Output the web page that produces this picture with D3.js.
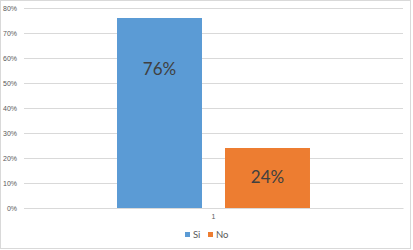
<!DOCTYPE html>
<html>
<head>
<meta charset="utf-8">
<script src="https://cdn.jsdelivr.net/npm/d3@7"></script>
<style>
  body { margin: 0; background: #fff; }
  svg { display: block; font-family: Lato, "Open Sans", sans-serif; }
</style>
</head>
<body>
<div class="container"></div>
<script>
// Data
const categories = ["1"];
const series = ["Si", "No"];
const values = [0.76, 0.24];
const labels = ["76%", "24%"];
const yTicks = [0, 0.1, 0.2, 0.3, 0.4, 0.5, 0.6, 0.7, 0.8];

const colors = ["#5B9BD5", "#ED7D31"];
// where the data label sits, in axis units (Excel put the big one high up)
const labelAt = [0.556, 0.124];

const width = 413;
const height = 250;
const margin = {top: 8, right: 10, bottom: 42, left: 24};

const svg = d3.select(".container").append("svg")
    .attr("width", width)
    .attr("height", height);

// chart border
svg.append("rect")
    .attr("x", 0.5).attr("y", 0.5)
    .attr("width", 410).attr("height", 248)
    .attr("fill", "#fff")
    .attr("stroke", "#d9d9d9");

const y = d3.scaleLinear()
    .domain([0, 0.8])
    .range([height - margin.bottom, margin.top]);

const x0 = d3.scaleBand()
    .domain(categories)
    .range([margin.left, width - margin.right])
    .paddingInner(0)
    .paddingOuter(0.482);

const x1 = d3.scaleBand()
    .domain(series)
    .range([0, x0.bandwidth()])
    .paddingInner(0.213)
    .paddingOuter(0);

// gridlines + y labels
const yAxis = svg.append("g")
    .attr("transform", `translate(${margin.left},0)`)
    .call(d3.axisLeft(y)
        .tickValues(yTicks)
        .tickSize(-(width - margin.left - margin.right))
        .tickPadding(7)
        .tickFormat(d3.format(".0%")));
yAxis.select(".domain").remove();
yAxis.selectAll(".tick line")
    .attr("stroke", "#d9d9d9");
yAxis.selectAll(".tick text")
    .attr("fill", "#595959")
    .attr("font-size", 7);

// x axis
const xAxis = svg.append("g")
    .attr("transform", `translate(0,${y(0)})`)
    .call(d3.axisBottom(x0).tickSize(0).tickPadding(6));
xAxis.select(".domain").attr("stroke", "#d9d9d9");
xAxis.selectAll(".tick text")
    .attr("fill", "#595959")
    .attr("font-size", 7);

// bars
const g = svg.append("g")
    .attr("transform", `translate(${x0(categories[0])},0)`);

g.selectAll("rect")
    .data(series)
    .enter().append("rect")
    .attr("x", d => x1(d))
    .attr("y", (d, i) => y(values[i]))
    .attr("width", x1.bandwidth())
    .attr("height", (d, i) => y(0) - y(values[i]))
    .attr("fill", (d, i) => colors[i]);

g.selectAll("text.lbl")
    .data(series)
    .enter().append("text")
    .attr("class", "lbl")
    .attr("x", d => x1(d) + x1.bandwidth() / 2)
    .attr("y", (d, i) => y(labelAt[i]))
    .attr("dy", "0.35em")
    .attr("text-anchor", "middle")
    .attr("fill", "#404040")
    .attr("font-size", 17)
    .text((d, i) => labels[i]);

// legend
const legend = svg.append("g")
    .attr("transform", "translate(185,235)");

const items = legend.selectAll("g")
    .data(series)
    .enter().append("g")
    .attr("transform", (d, i) => `translate(${i * 23},0)`);

items.append("rect")
    .attr("x", 0).attr("y", -3)
    .attr("width", 5).attr("height", 5)
    .attr("fill", (d, i) => colors[i]);

items.append("text")
    .attr("x", 8)
    .attr("y", 0)
    .attr("dy", "0.35em")
    .attr("fill", "#595959")
    .attr("font-size", 9.5)
    .text(d => d);
</script>
</body>
</html>
